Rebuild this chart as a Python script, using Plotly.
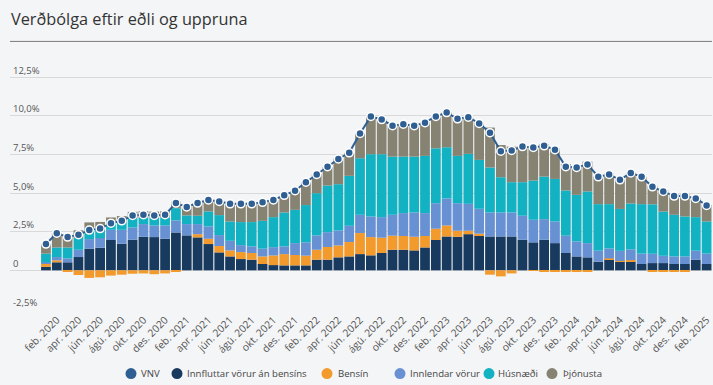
import plotly.graph_objects as go

months_is = ["jan.", "feb.", "mar.", "apr.", "maí", "jún.", "júl.", "ágú.", "sep.", "okt.", "nóv.", "des."]
categories = [f"{months_is[(i) % 12]} {2020 + i // 12}" for i in range(62)]

vnv = [1.7, 2.4, 2.15, 2.3, 2.6, 2.7, 3.05, 3.2, 3.55, 3.6, 3.55, 3.6,
       4.35, 4.1, 4.35, 4.55, 4.45, 4.3, 4.3, 4.3, 4.4, 4.55, 4.85, 5.15,
       5.7, 6.2, 6.7, 7.2, 7.6, 8.85, 9.95, 9.75, 9.35, 9.45, 9.35, 9.55,
       9.95, 10.2, 9.8, 9.9, 9.5, 8.9, 7.7, 7.75, 8.0, 7.95, 8.05, 7.8,
       6.7, 6.65, 6.85, 6.05, 6.2, 5.85, 6.3, 6.05, 5.4, 5.1, 4.8, 4.8,
       4.65, 4.2]
innfluttar = [0.22, 0.52, 0.52, 0.86, 1.40, 1.46, 1.96, 1.72, 1.98, 2.17, 2.15, 2.04,
              2.45, 2.26, 2.13, 1.70, 1.16, 0.90, 0.73, 0.69, 0.41, 0.34, 0.32, 0.32,
              0.32, 0.69, 0.69, 0.84, 0.90, 1.05, 0.97, 1.12, 1.33, 1.33, 1.29, 1.48,
              1.96, 2.19, 2.17, 2.34, 2.26, 2.19, 2.19, 2.19, 1.98, 1.81, 1.98, 1.76,
              1.12, 0.90, 0.84, 0.56, 0.73, 0.56, 0.58, 0.41, 0.47, 0.47, 0.41, 0.41,
              0.69, 0.41]
bensin = [0.21, 0.13, -0.05, -0.30, -0.49, -0.45, -0.34, -0.28, -0.22, -0.20, -0.25, -0.20,
          -0.10, 0.00, 0.21, 0.34, 0.41, 0.39, 0.45, 0.43, 0.49, 0.62, 0.73, 0.67,
          0.63, 0.64, 0.82, 0.77, 0.93, 1.36, 1.18, 0.99, 0.91, 0.89, 0.88, 0.74,
          0.73, 0.71, 0.39, 0.22, 0.11, -0.28, -0.39, -0.20, 0.00, -0.03, -0.05, -0.05,
          -0.05, -0.05, -0.10, 0.00, 0.04, 0.05, 0.08, 0.00, -0.08, -0.10, -0.10, -0.10,
          0.00, 0.00]
innlendar = [0.09, 0.21, 0.25, 0.47, 0.62, 0.63, 0.66, 0.90, 0.79, 0.82, 0.75, 0.86,
             0.78, 0.73, 0.65, 0.80, 0.71, 0.62, 0.45, 0.43, 0.50, 0.54, 0.50, 0.77,
             0.86, 0.93, 0.96, 0.97, 1.05, 1.18, 1.33, 1.33, 1.35, 1.48, 1.57, 1.48,
             1.65, 1.75, 1.78, 1.74, 1.61, 1.55, 1.55, 1.55, 1.55, 1.46, 1.33, 1.40,
             1.12, 0.97, 0.92, 0.71, 0.65, 0.65, 0.70, 0.67, 0.60, 0.47, 0.49, 0.49,
             0.58, 0.67]
husnaedi = [0.56, 0.62, 0.71, 0.76, 0.71, 0.64, 0.54, 0.54, 0.61, 0.43, 0.52, 0.52,
            0.79, 0.56, 0.54, 0.97, 1.29, 1.25, 1.49, 1.57, 1.80, 1.94, 2.19, 2.15,
            2.41, 2.73, 3.01, 2.99, 3.23, 3.66, 4.03, 4.07, 3.76, 3.65, 3.61, 3.70,
            3.55, 3.31, 3.06, 3.23, 3.16, 2.91, 2.28, 1.96, 2.17, 2.53, 2.75, 2.75,
            2.92, 3.01, 3.34, 3.01, 2.86, 2.71, 2.96, 3.20, 3.20, 2.86, 2.69, 2.58,
            2.17, 2.08]
thjonusta = [0.64, 0.93, 0.72, 0.50, 0.37, 0.40, 0.26, 0.35, 0.40, 0.40, 0.38, 0.40,
             0.43, 0.58, 0.82, 0.75, 0.88, 1.12, 1.16, 1.16, 1.19, 1.10, 1.10, 1.23,
             1.48, 1.23, 1.19, 1.66, 1.50, 1.61, 2.43, 2.26, 2.00, 2.09, 2.00, 2.17,
             2.05, 2.26, 2.43, 2.36, 2.41, 2.58, 2.08, 2.30, 2.34, 2.24, 2.11, 1.98,
             1.72, 1.85, 1.93, 1.80, 1.98, 1.90, 2.00, 1.78, 1.20, 1.39, 1.33, 1.44,
             1.23, 1.08]

series_names = ["Innfluttar vörur án bensíns", "Bensín", "Innlendar vörur", "Húsnæði", "Þjónusta"]
series_values = [innfluttar, bensin, innlendar, husnaedi, thjonusta]
series_colors = ["#183a5e", "#f39a2c", "#6891d3", "#12b2c2", "#868373"]
vnv_color = "#2f5f92"

y_ticks = [-2.5, 0, 2.5, 5.0, 7.5, 10.0, 12.5]
y_ticktext = ["-2,5%", "0", "2,5%", "5,0%", "7,5%", "10,0%", "12,5%"]
x_tickvals = categories[1::2]

FONT = "Open Sans"

fig = go.Figure()
for name, vals, col in zip(series_names, series_values, series_colors):
    fig.add_trace(go.Bar(x=categories, y=vals, name=name, marker=dict(color=col, line=dict(width=0)),
                         showlegend=False))
fig.add_trace(go.Scatter(x=categories, y=vnv, name="VNV", mode="lines+markers",
                         line=dict(color=vnv_color, width=2),
                         marker=dict(size=8, color=vnv_color, line=dict(color="white", width=1.5)),
                         showlegend=False))

W, H = 713, 385
unit = (309.3 - 76.7) / 15.0
y_top = 13.6
ml, mr = 10, 1
mb = H - 309.3
mt = 76.7 - (y_top - 12.5) * unit
pw, ph = W - ml - mr, H - mt - mb

def px(x):
    return (x - ml) / pw

def py(y):
    return (H - mb - y) / ph

legend_names = ["VNV"] + series_names
legend_colors = [vnv_color] + series_colors
legend_cx = [131, 177, 327, 400, 489, 552]
legend_tx = [140, 186, 337, 409, 497, 562]
legend_y = 374
shapes = [dict(type="line", xref="paper", yref="paper", x0=0, x1=1, y0=py(41), y1=py(41),
               line=dict(color="#7a7a7a", width=1))]
annotations = [dict(text="Verðbólga eftir eðli og uppruna", xref="paper", yref="paper",
                    x=px(9), y=py(19), xanchor="left", yanchor="middle", showarrow=False,
                    font=dict(family=FONT, size=16.3, color="#333333"))]
for nm, col, cx, tx in zip(legend_names, legend_colors, legend_cx, legend_tx):
    shapes.append(dict(type="circle", xref="paper", yref="paper", xsizemode="pixel", ysizemode="pixel",
                       xanchor=px(cx), yanchor=py(legend_y), x0=-5.5, x1=5.5, y0=-5.5, y1=5.5,
                       fillcolor=col, line=dict(width=0)))
    annotations.append(dict(text=nm, xref="paper", yref="paper", x=px(tx - 1), y=py(legend_y),
                            xanchor="left", yanchor="middle", showarrow=False,
                            font=dict(family=FONT, size=9.6, color="#444444")))

fig.update_layout(
    width=W, height=H,
    margin=dict(l=ml, r=mr, t=mt, b=mb, autoexpand=False),
    paper_bgcolor="#f4f5f7", plot_bgcolor="#f4f5f7",
    barmode="relative", bargap=0.1,
    font=dict(family=FONT, size=10, color="#555555"),
    showlegend=False,
    shapes=shapes, annotations=annotations,
    xaxis=dict(type="category", categoryorder="array", categoryarray=categories,
               range=[-3.32, 61.5], tickvals=x_tickvals, ticktext=x_tickvals, tickangle=-45,
               showgrid=False, zeroline=False, showline=False, ticks="", automargin=False,
               ticklabelstandoff=2,
               tickfont=dict(family=FONT, size=10.3, color="#555555")),
    yaxis=dict(range=[-2.5, y_top], tickvals=y_ticks, ticktext=y_ticktext,
               ticklabelposition="inside top", showgrid=True, gridcolor="#d9d9d9", gridwidth=1,
               zeroline=False, showline=False, ticks="", automargin=False,
               tickfont=dict(family=FONT, size=9.5, color="#555555")),
)

fig.write_html("out.html", config={"displayModeBar": False},
               post_script="document.body.style.margin='0';document.body.style.overflow='hidden';")
